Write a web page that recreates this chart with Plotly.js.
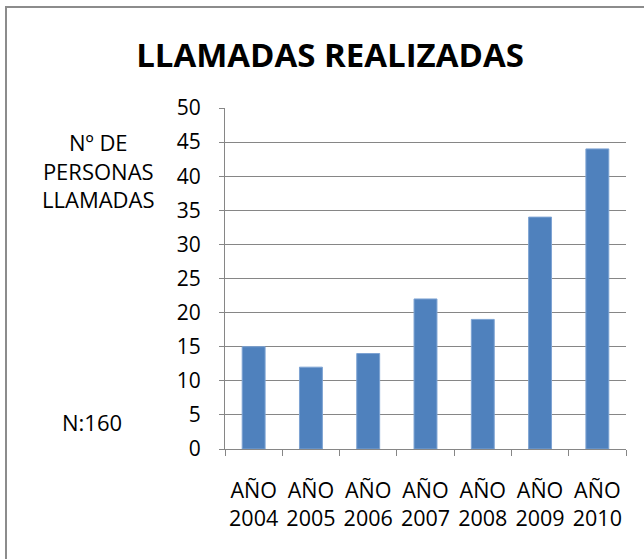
<!DOCTYPE html>
<html>
<head>
<meta charset="utf-8">
<script src="https://cdn.plot.ly/plotly-3.0.1.min.js"></script>
<style>
  html, body { margin: 0; padding: 0; background: #ffffff; }
  #wrap { position: relative; width: 644px; height: 559px; overflow: hidden; }
  #frame { position: absolute; left: 5px; top: 6px; width: 700px; height: 700px; border: 2px solid #8c8c8c; box-sizing: border-box; }
  #chart { position: absolute; left: 0; top: 0; width: 644px; height: 559px; }
</style>
</head>
<body>
<div id="wrap">
  <div id="frame"></div>
  <div id="chart"></div>
</div>
<script>
const categories = ["AÑO<br>2004", "AÑO<br>2005", "AÑO<br>2006", "AÑO<br>2007", "AÑO<br>2008", "AÑO<br>2009", "AÑO<br>2010"];
const llamadas = [15, 12, 14, 22, 19, 34, 44];
const yTicks = [0, 5, 10, 15, 20, 25, 30, 35, 40, 45, 50];
const titleText = "LLAMADAS REALIZADAS";
const yLabelText = "Nº DE<br>PERSONAS<br>LLAMADAS";
const nText = "N:160";

const FONT = "Open Sans, Liberation Sans, sans-serif";
const GRID = "#868686";

const trace = {
  type: "bar",
  x: categories,
  y: llamadas,
  marker: { color: "#4f81bd", line: { color: "#7da3d3", width: 1 } },
  hoverinfo: "skip"
};

const layout = {
  width: 644,
  height: 559,
  margin: { l: 225, r: 18, t: 108, b: 110, pad: 0 },
  paper_bgcolor: "rgba(0,0,0,0)",
  plot_bgcolor: "rgba(0,0,0,0)",
  showlegend: false,
  bargap: 0.6,
  title: {
    text: titleText,
    font: { family: FONT, size: 33, color: "#000000", weight: "bold" },
    xref: "paper", x: (330 - 225) / 401, xanchor: "center",
    yref: "container", y: 1 - 55 / 559, yanchor: "middle"
  },
  xaxis: {
    type: "category",
    showline: true, linecolor: GRID, linewidth: 1,
    ticks: "outside", tickson: "boundaries", ticklen: 6, tickcolor: GRID, tickwidth: 1,
    showgrid: false,
    tickangle: 0,
    tickfont: { family: FONT, size: 21.5, color: "#000000" },
    ticklabelstandoff: 22,
    fixedrange: true
  },
  yaxis: {
    range: [0, 50],
    tickvals: yTicks,
    ticktext: yTicks.map(String),
    showline: true, linecolor: GRID, linewidth: 1,
    ticks: "outside", ticklen: 5, tickcolor: GRID, tickwidth: 1,
    showgrid: true, gridcolor: GRID, gridwidth: 1,
    zeroline: false,
    tickfont: { family: FONT, size: 21, color: "#000000" },
    ticklabelstandoff: 14,
    fixedrange: true
  },
  annotations: [
    {
      text: yLabelText, xref: "paper", yref: "paper",
      x: (99 - 225) / 401, y: (449 - 170) / 341,
      xanchor: "center", yanchor: "middle", showarrow: false, align: "center",
      font: { family: FONT, size: 22, color: "#000000" }
    },
    {
      text: nText, xref: "paper", yref: "paper",
      x: (92 - 225) / 401, y: (449 - 422) / 341,
      xanchor: "center", yanchor: "middle", showarrow: false,
      font: { family: FONT, size: 22, color: "#000000" }
    }
  ]
};

Plotly.newPlot("chart", [trace], layout, { displayModeBar: false, staticPlot: true });
</script>
</body>
</html>
